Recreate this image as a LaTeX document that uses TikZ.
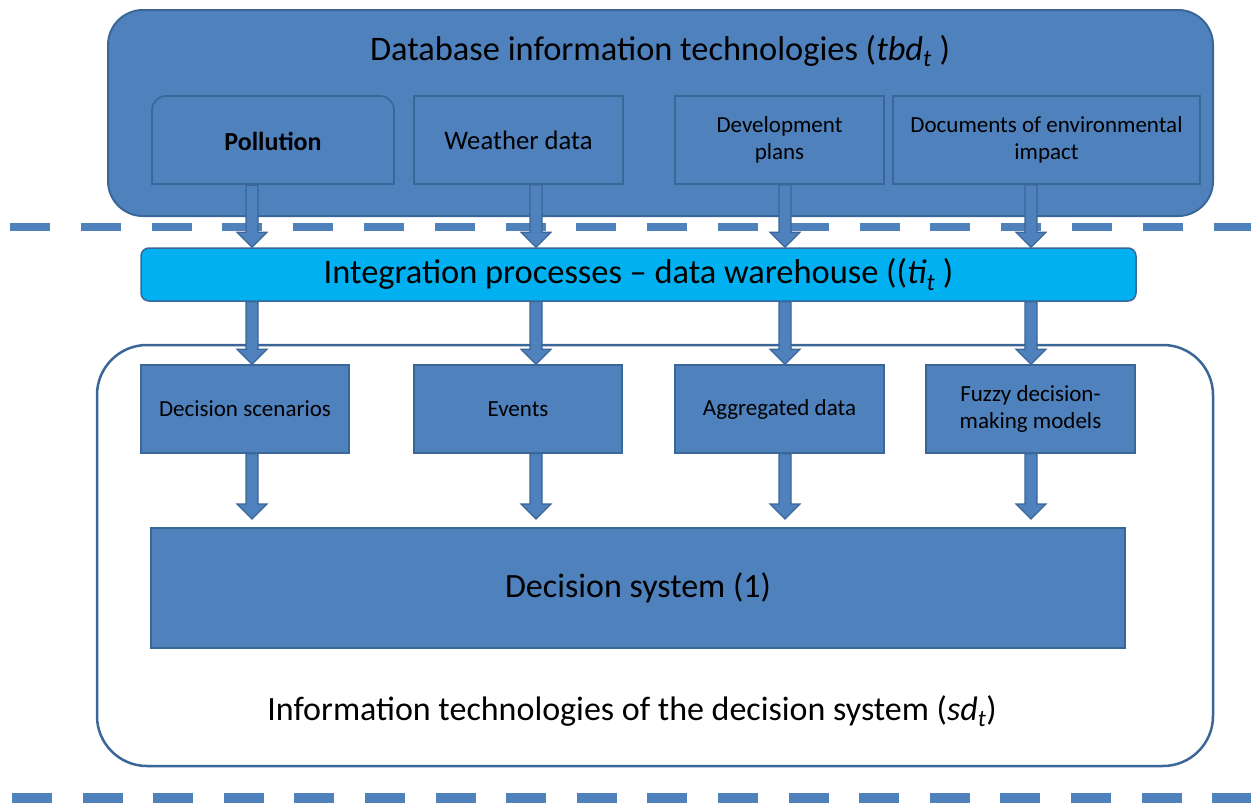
\documentclass[tikz,border=0pt]{standalone}
\usepackage{fontspec}
\setmainfont{Carlito}
\usetikzlibrary{calc}
\definecolor{boxblue}{HTML}{4F81BD}
\definecolor{edgeblue}{HTML}{3A6698}
\definecolor{lightblue}{HTML}{00B0F0}
\begin{document}
\begin{tikzpicture}[x=1pt,y=-1pt,
  blk/.style={draw=edgeblue, fill=boxblue, line width=1.6pt, inner sep=0pt, align=center, text=black},
  small/.style={font=\fontsize{23}{27}\selectfont},
  big/.style={font=\fontsize{34.4}{40}\selectfont},
  blockarrow/.style={draw=edgeblue, fill=boxblue, line width=1.2pt, line join=miter,
    to path={let \p1=(\tikztostart), \p2=(\tikztotarget) in
      (\x1-6pt,\y1) -- (\x1-6pt,\y2+15pt) -- (\x1-15pt,\y2+15pt) -- (\x1,\y2)
      -- (\x1+15pt,\y2+15pt) -- (\x1+6pt,\y2+15pt) -- (\x1+6pt,\y1) -- cycle}},
  sepline/.style={draw=boxblue, line width=#1}
]
\useasboundingbox (0,0) rectangle (1251,803);
% column coordinates
\coordinate (c1) at (252,0);
\coordinate (c2) at (536,0);
\coordinate (c3) at (785,0);
\coordinate (c4) at (1031,0);

% top container
\node[blk, line width=2pt, rounded corners=35pt, minimum width=1105pt, minimum height=206pt] (top) at (660.5,113) {};
\node[big] (title) at (660,51) {Database information technologies (\textit{tbd}\textsubscript{\textit{t}}\ )};

% dashed separators
\draw[sepline=8pt, dash pattern=on 40pt off 30.8pt] (10,227) -- (1251,227);
\draw[sepline=10pt, dash pattern=on 40pt off 30.6pt] (12,798) -- (1251,798);

% pollution box: rounded top corners only
\draw[draw=edgeblue, fill=boxblue, line width=1.6pt]
  (152,184) -- (152,110) arc[start angle=180, end angle=90, radius=14pt]
  -- (380,96) arc[start angle=90, end angle=0, radius=14pt] -- (394,184) -- cycle;
\node[inner sep=0pt, minimum width=242pt, minimum height=88pt, font=\fontsize{26}{30}\selectfont\bfseries] (pol) at (273,141) {Pollution};
\node[blk, minimum width=209pt, minimum height=88pt, font=\fontsize{26.7}{30}\selectfont] (wea) at (518.5,140) {Weather data};
\node[blk, small, minimum width=209pt, minimum height=88pt] (dev) at (779.5,140) {Development\\plans};
\node[blk, small, minimum width=307pt, minimum height=88pt] (doc) at (1046.5,140) {Documents of environmental\\impact};

% integration bar
\node[draw=edgeblue, fill=lightblue, line width=1.5pt, rounded corners=8pt, minimum width=995pt, minimum height=53pt, inner sep=0pt, big] (bar) at (638.5,274.5) {Integration processes -- data warehouse ((\textit{ti}\textsubscript{\textit{t}}\ )};

% lower container
\node[draw=edgeblue, fill=white, line width=2.5pt, rounded corners=50pt, minimum width=1116pt, minimum height=421pt] (low) at (655,555.5) {};

\node[blk, small, minimum width=208pt, minimum height=88pt] (ds) at (245,409) {Decision scenarios};
\node[blk, small, minimum width=208pt, minimum height=88pt] (ev) at (518,409) {Events};
\node[blk, small, minimum width=209pt, minimum height=88pt] (ag) at (779.5,409) {Aggregated data};
\node[blk, small, minimum width=209pt, minimum height=88pt] (fz) at (1030.5,409) {Fuzzy decision-\\making models};

\node[blk, line width=2pt, minimum width=974pt, minimum height=120pt, font=\fontsize{34}{40}\selectfont] (sys) at (638,588) {Decision system (1)};

\node[font=\fontsize{34}{40}\selectfont] (cap) at (632,711) {Information technologies of the decision system (\textit{sd}\textsubscript{\textit{t}})};

% arrows: top row to integration bar
\path[blockarrow] (pol.south -| c1) to (bar.north -| c1);
\path[blockarrow] (wea.south -| c2) to (bar.north -| c2);
\path[blockarrow] (dev.south -| c3) to (bar.north -| c3);
\path[blockarrow] (doc.south -| c4) to (bar.north -| c4);
% integration bar to lower boxes
\path[blockarrow] (bar.south -| c1) to (ds.north -| c1);
\path[blockarrow] (bar.south -| c2) to (ev.north -| c2);
\path[blockarrow] (bar.south -| c3) to (ag.north -| c3);
\path[blockarrow] (bar.south -| c4) to (fz.north -| c4);
% lower boxes to decision system
\path[blockarrow] (ds.south -| c1) to ($(sys.north -| c1)+(0,-8)$);
\path[blockarrow] (ev.south -| c2) to ($(sys.north -| c2)+(0,-8)$);
\path[blockarrow] (ag.south -| c3) to ($(sys.north -| c3)+(0,-8)$);
\path[blockarrow] (fz.south -| c4) to ($(sys.north -| c4)+(0,-8)$);
\end{tikzpicture}
\end{document}
